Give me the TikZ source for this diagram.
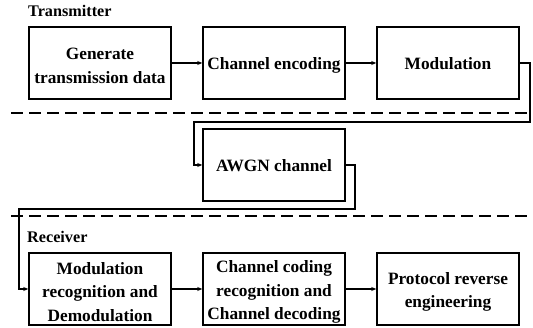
\documentclass[tikz,border=0pt]{standalone}
\usepackage{fontspec}
\setmainfont{Liberation Serif}
\usetikzlibrary{arrows.meta}
\begin{document}
\begin{tikzpicture}[x=1pt,y=-1pt,
  box/.style={draw,line width=1.5pt,minimum width=142pt,minimum height=72pt,inner sep=0pt},
  txt/.style={inner sep=0pt,align=center,font=\fontsize{17.3}{23.5}\selectfont\bfseries},
  one/.style={txt,text height=18pt,text depth=4pt},
  multi/.style={txt,yshift=-3pt},
  lbl/.style={font=\fontsize{16.2}{20}\selectfont\bfseries,inner sep=0pt,anchor=base west},
  conn/.style={line width=1.4pt,-{Stealth[length=5pt,width=4pt]}},
  sep/.style={line width=1.5pt,dash pattern=on 12pt off 6pt}]
\useasboundingbox (0,0) rectangle (533,328);
\node[lbl] (tx) at (28,17) {Transmitter};
\node[lbl] (rx) at (27,243) {Receiver};
\node[box] (b1) at (100,63) {};
\node[box] (b2) at (274,63) {};
\node[box] (b3) at (448,63) {};
\node[box] (aw) at (274,165) {};
\node[box] (b4) at (100,289) {};
\node[box] (b5) at (274,289) {};
\node[box] (b6) at (448,289) {};
\node[multi] (t1) at (b1.center) {Generate\\transmission data};
\node[one] (t2) at (b2.center) {Channel encoding};
\node[one] (t3) at (b3.center) {Modulation};
\node[one] (ta) at (aw.center) {AWGN channel};
\node[multi] (t4) at (b4.center) {Modulation\\recognition and\\Demodulation};
\node[multi] (t5) at (b5.center) {Channel coding\\recognition and\\Channel decoding};
\node[multi] (t6) at (b6.center) {Protocol reverse\\engineering};
\coordinate (c1) at (530,122);
\coordinate (c2) at (194,122);
\coordinate (c3) at (355,209);
\coordinate (c4) at (19,209);
\coordinate (d1) at (11,113);
\coordinate (d2) at (533,113);
\coordinate (d3) at (11,216);
\coordinate (d4) at (533,216);
\draw[sep] (d1) -- (d2);
\draw[sep] (d3) -- (d4);
\draw[conn] (b1) -- (b2);
\draw[conn] (b2) -- (b3);
\draw[conn] (b3.east) -| (c1) -- (c2) |- (aw.west);
\draw[conn] (aw.east) -| (c3) -- (c4) |- (b4.west);
\draw[conn] (b4) -- (b5);
\draw[conn] (b5) -- (b6);
\end{tikzpicture}
\end{document}
